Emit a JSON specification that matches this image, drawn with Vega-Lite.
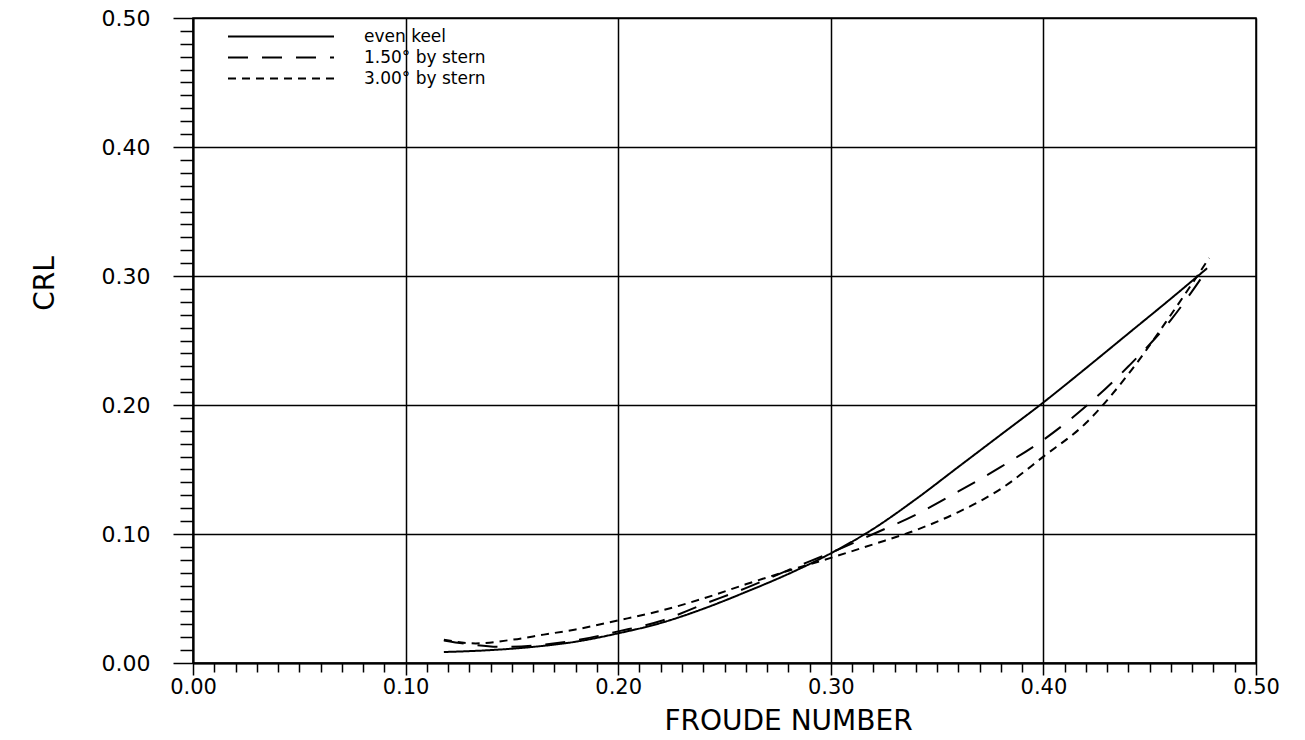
{
  "$schema": "https://vega.github.io/schema/vega-lite/v6.json",
  "width": 1063,
  "height": 645,
  "autosize": {"type": "none"},
  "padding": {"left": 193, "top": 18, "right": 49, "bottom": 77},
  "background": "white",
  "config": {
    "view": {"stroke": "black", "strokeWidth": 1.5},
    "font": "DejaVu Sans"
  },
  "data": {
    "values": [
      {"fn": 0.118, "c": 0.0085, "series": "even keel"},
      {"fn": 0.14, "c": 0.0100, "series": "even keel"},
      {"fn": 0.16, "c": 0.0125, "series": "even keel"},
      {"fn": 0.18, "c": 0.0165, "series": "even keel"},
      {"fn": 0.20, "c": 0.0230, "series": "even keel"},
      {"fn": 0.22, "c": 0.0310, "series": "even keel"},
      {"fn": 0.24, "c": 0.0420, "series": "even keel"},
      {"fn": 0.26, "c": 0.0550, "series": "even keel"},
      {"fn": 0.28, "c": 0.0690, "series": "even keel"},
      {"fn": 0.30, "c": 0.0850, "series": "even keel"},
      {"fn": 0.32, "c": 0.1040, "series": "even keel"},
      {"fn": 0.34, "c": 0.1270, "series": "even keel"},
      {"fn": 0.36, "c": 0.1520, "series": "even keel"},
      {"fn": 0.38, "c": 0.1770, "series": "even keel"},
      {"fn": 0.40, "c": 0.2020, "series": "even keel"},
      {"fn": 0.42, "c": 0.2285, "series": "even keel"},
      {"fn": 0.44, "c": 0.2555, "series": "even keel"},
      {"fn": 0.46, "c": 0.2825, "series": "even keel"},
      {"fn": 0.477, "c": 0.3060, "series": "even keel"},
      {"fn": 0.118, "c": 0.0175, "series": "1.50° by stern"},
      {"fn": 0.13, "c": 0.0145, "series": "1.50° by stern"},
      {"fn": 0.145, "c": 0.0125, "series": "1.50° by stern"},
      {"fn": 0.16, "c": 0.0135, "series": "1.50° by stern"},
      {"fn": 0.18, "c": 0.0175, "series": "1.50° by stern"},
      {"fn": 0.20, "c": 0.0245, "series": "1.50° by stern"},
      {"fn": 0.22, "c": 0.0325, "series": "1.50° by stern"},
      {"fn": 0.24, "c": 0.0455, "series": "1.50° by stern"},
      {"fn": 0.26, "c": 0.0580, "series": "1.50° by stern"},
      {"fn": 0.28, "c": 0.0720, "series": "1.50° by stern"},
      {"fn": 0.30, "c": 0.0855, "series": "1.50° by stern"},
      {"fn": 0.32, "c": 0.1000, "series": "1.50° by stern"},
      {"fn": 0.34, "c": 0.1150, "series": "1.50° by stern"},
      {"fn": 0.36, "c": 0.1330, "series": "1.50° by stern"},
      {"fn": 0.38, "c": 0.1520, "series": "1.50° by stern"},
      {"fn": 0.40, "c": 0.1730, "series": "1.50° by stern"},
      {"fn": 0.42, "c": 0.1990, "series": "1.50° by stern"},
      {"fn": 0.44, "c": 0.2300, "series": "1.50° by stern"},
      {"fn": 0.46, "c": 0.2660, "series": "1.50° by stern"},
      {"fn": 0.477, "c": 0.3050, "series": "1.50° by stern"},
      {"fn": 0.118, "c": 0.0180, "series": "3.00° by stern"},
      {"fn": 0.133, "c": 0.0152, "series": "3.00° by stern"},
      {"fn": 0.15, "c": 0.0180, "series": "3.00° by stern"},
      {"fn": 0.165, "c": 0.0220, "series": "3.00° by stern"},
      {"fn": 0.18, "c": 0.0260, "series": "3.00° by stern"},
      {"fn": 0.20, "c": 0.0330, "series": "3.00° by stern"},
      {"fn": 0.22, "c": 0.0405, "series": "3.00° by stern"},
      {"fn": 0.24, "c": 0.0500, "series": "3.00° by stern"},
      {"fn": 0.26, "c": 0.0610, "series": "3.00° by stern"},
      {"fn": 0.28, "c": 0.0715, "series": "3.00° by stern"},
      {"fn": 0.30, "c": 0.0815, "series": "3.00° by stern"},
      {"fn": 0.32, "c": 0.0920, "series": "3.00° by stern"},
      {"fn": 0.34, "c": 0.1030, "series": "3.00° by stern"},
      {"fn": 0.36, "c": 0.1170, "series": "3.00° by stern"},
      {"fn": 0.38, "c": 0.1350, "series": "3.00° by stern"},
      {"fn": 0.40, "c": 0.1600, "series": "3.00° by stern"},
      {"fn": 0.42, "c": 0.1860, "series": "3.00° by stern"},
      {"fn": 0.44, "c": 0.2240, "series": "3.00° by stern"},
      {"fn": 0.46, "c": 0.2700, "series": "3.00° by stern"},
      {"fn": 0.478, "c": 0.3140, "series": "3.00° by stern"}
    ]
  },
  "mark": {"type": "line", "color": "black", "strokeWidth": 2, "interpolate": "monotone"},
  "encoding": {
    "x": {
      "field": "fn",
      "type": "quantitative",
      "scale": {"domain": [0, 0.5], "nice": false, "zero": false},
      "axis": {
        "values": [0, 0.01, 0.02, 0.03, 0.04, 0.05, 0.06, 0.07, 0.08, 0.09, 0.1, 0.11, 0.12, 0.13, 0.14, 0.15, 0.16, 0.17, 0.18, 0.19, 0.2, 0.21, 0.22, 0.23, 0.24, 0.25, 0.26, 0.27, 0.28, 0.29, 0.3, 0.31, 0.32, 0.33, 0.34, 0.35, 0.36, 0.37, 0.38, 0.39, 0.4, 0.41, 0.42, 0.43, 0.44, 0.45, 0.46, 0.47, 0.48, 0.49, 0.5],
        "labelExpr": "round(datum.value*100) % 10 == 0 ? format(datum.value, '.2f') : ''",
        "labelOverlap": false,
        "labelFlush": false,
        "labelBound": false,
        "grid": true,
        "gridColor": "black",
        "gridWidth": 1.5,
        "gridOpacity": {"condition": {"test": "round(datum.value*100) % 10 == 0", "value": 1}, "value": 0},
        "tickSize": {"condition": {"test": "round(datum.value*100) % 10 == 0", "value": 12}, "value": 9},
        "tickColor": "black",
        "tickWidth": 1.5,
        "domainColor": "black",
        "domainWidth": 2,
        "labelFontSize": 21,
        "labelColor": "black",
        "labelPadding": 1,
        "title": "FROUDE NUMBER",
        "titleFontSize": 28,
        "titleFontWeight": "normal",
        "titleColor": "black",
        "titleX": 595,
        "titleY": 58,
        "titleAlign": "center",
        "titleBaseline": "middle"
      }
    },
    "y": {
      "field": "c",
      "type": "quantitative",
      "scale": {"domain": [0, 0.5], "nice": false, "zero": false},
      "axis": {
        "values": [0, 0.01, 0.02, 0.03, 0.04, 0.05, 0.06, 0.07, 0.08, 0.09, 0.1, 0.11, 0.12, 0.13, 0.14, 0.15, 0.16, 0.17, 0.18, 0.19, 0.2, 0.21, 0.22, 0.23, 0.24, 0.25, 0.26, 0.27, 0.28, 0.29, 0.3, 0.31, 0.32, 0.33, 0.34, 0.35, 0.36, 0.37, 0.38, 0.39, 0.4, 0.41, 0.42, 0.43, 0.44, 0.45, 0.46, 0.47, 0.48, 0.49, 0.5],
        "labelExpr": "round(datum.value*100) % 10 == 0 ? format(datum.value, '.2f') : ''",
        "labelOverlap": false,
        "labelFlush": false,
        "labelBound": false,
        "grid": true,
        "gridColor": "black",
        "gridWidth": 1.5,
        "gridOpacity": {"condition": {"test": "round(datum.value*100) % 10 == 0", "value": 1}, "value": 0},
        "tickSize": {"condition": {"test": "round(datum.value*100) % 10 == 0", "value": 20}, "value": 13},
        "tickColor": "black",
        "tickWidth": 1.5,
        "domainColor": "black",
        "domainWidth": 2,
        "labelFontSize": 22,
        "labelColor": "black",
        "labelPadding": 23,
        "title": "CRL",
        "titleFontSize": 28,
        "titleFontWeight": "normal",
        "titleColor": "black",
        "titleX": -148,
        "titleY": 265,
        "titleAngle": 270,
        "titleAlign": "center",
        "titleBaseline": "middle"
      }
    },
    "strokeDash": {
      "field": "series",
      "type": "nominal",
      "scale": {
        "domain": ["even keel", "1.50° by stern", "3.00° by stern"],
        "range": [[1, 0], [20, 14], [8, 6]]
      },
      "legend": {
        "title": null,
        "orient": "none",
        "legendX": 34,
        "legendY": 8,
        "padding": 0,
        "symbolType": "stroke",
        "symbolSize": 11236,
        "symbolStrokeWidth": 2,
        "symbolStrokeColor": "black",
        "clipHeight": 21,
        "rowPadding": 0,
        "labelOffset": 29,
        "labelFontSize": 17,
        "labelColor": "black",
        "labelLimit": 400
      }
    }
  }
}
